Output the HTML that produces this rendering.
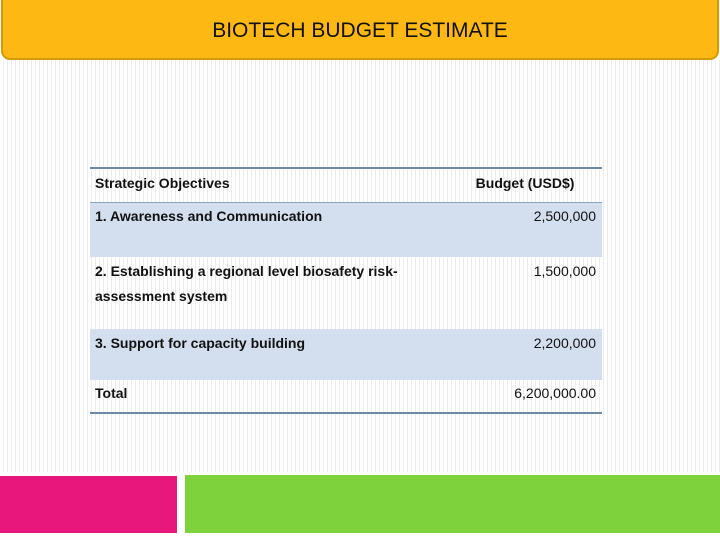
<!DOCTYPE html>
<html><head><meta charset="utf-8"><style>
body{margin:0;width:720px;height:540px;position:relative;background:#fff;font-family:"Liberation Sans",sans-serif;overflow:hidden}
#bg{position:absolute;left:0;top:60px;width:720px;height:412px;background:repeating-linear-gradient(90deg,#fff 0,#fff 3px,#ececec 3px,#ececec 4px)}
#title{position:absolute;left:1px;top:0;width:714px;height:58px;background:#fdb813;border:2px solid #d39a0c;border-top:none;border-radius:0 0 9px 9px;text-align:center;line-height:62px;font-size:21px;color:#111}
#pink{position:absolute;left:0;top:476px;width:177px;height:57px;background:#e8177b}
#green{position:absolute;left:185px;top:475px;width:535px;height:58px;background:#7ed23c}
table{position:absolute;left:90px;top:167px;width:512px;border-collapse:collapse;font-size:14px;color:#111}
td{padding:0 6px 0 5px;vertical-align:top}
.b{font-weight:bold}
.r{text-align:right}
</style></head><body>
<div id="bg"></div>
<div id="title">BIOTECH BUDGET ESTIMATE</div>
<table>
<tr style="height:34px;border-top:2px solid #6e8aa2;border-bottom:1px solid #8aa6c2">
<td class="b" style="padding-top:6px">Strategic Objectives</td><td class="b" style="padding-top:6px;padding-left:16px">Budget (USD$)</td></tr>
<tr style="height:55px;background:#d3dfee">
<td class="b" style="padding-top:5px">1. Awareness and Communication</td><td class="r" style="padding-top:5px">2,500,000</td></tr>
<tr style="height:72px">
<td class="b" style="padding-top:2px;line-height:25px">2. Establishing a regional level biosafety risk-<br>assessment system</td><td class="r" style="padding-top:6px">1,500,000</td></tr>
<tr style="height:51px;background:#d3dfee">
<td class="b" style="padding-top:6px">3. Support for capacity building</td><td class="r" style="padding-top:6px">2,200,000</td></tr>
<tr style="height:33px;border-bottom:2px solid #6e8aa2">
<td class="b" style="padding-top:5px">Total</td><td class="r" style="padding-top:5px">6,200,000.00</td></tr>
</table>
<div id="pink"></div>
<div id="green"></div>
</body></html>
